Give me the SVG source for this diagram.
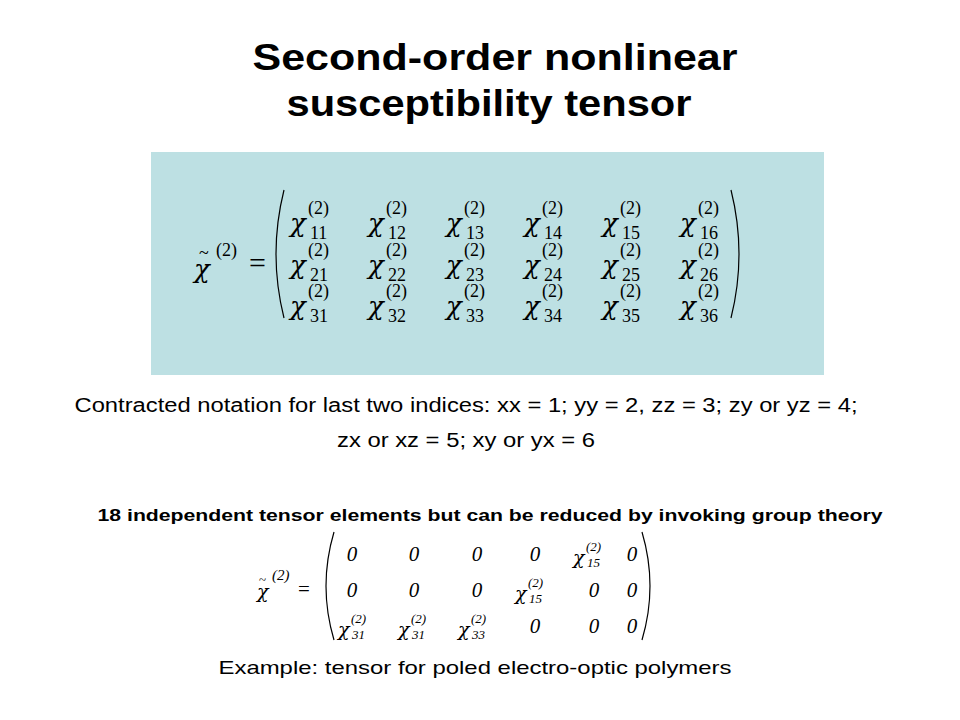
<svg xmlns="http://www.w3.org/2000/svg" width="960" height="720" viewBox="0 0 960 720">
<style>
.t{font-family:"Liberation Sans",Arial,sans-serif;fill:#000}
.m{font-family:"Liberation Serif","Times New Roman",serif;fill:#000}
.c{font-family:"DejaVu Serif",serif;font-style:italic;font-size:26px}
.s{font-size:18px}
.p{fill:none;stroke:#000;stroke-width:1.2}
.bc{font-family:"DejaVu Serif",serif;font-style:italic;font-size:19px}
.bs{font-size:13px;font-style:italic}
.z{font-family:"Liberation Serif",serif;font-style:italic;font-size:21px}
</style>
<rect width="960" height="720" fill="#fff"/>
<g id="title" class="t" font-weight="bold" font-size="36" text-anchor="middle">
<text x="495" y="70" textLength="485" lengthAdjust="spacingAndGlyphs">Second-order nonlinear</text>
<text x="489" y="116" textLength="405" lengthAdjust="spacingAndGlyphs">susceptibility tensor</text>
</g>
<g id="matrix1">
<rect x="151" y="152" width="673" height="223" fill="#bde0e3"/>
<g class="m">
<text x="194" y="278" class="c">χ</text>
<text x="199" y="259" font-size="18">~</text>
<text x="216" y="256" class="s">(2)</text>
<text x="249" y="273" font-size="30">=</text>
</g>
<path class="p" d="M284 190 Q268 254 284 318"/>
<path class="p" d="M731 190 Q747 254 731 318"/>
<g class="m" id="cells">
<g transform="translate(290,232)"><text class="c">χ</text><text x="18" y="-18" class="s">(2)</text><text x="20" y="7" class="s">11</text></g>
<g transform="translate(368,232)"><text class="c">χ</text><text x="18" y="-18" class="s">(2)</text><text x="20" y="7" class="s">12</text></g>
<g transform="translate(446,232)"><text class="c">χ</text><text x="18" y="-18" class="s">(2)</text><text x="20" y="7" class="s">13</text></g>
<g transform="translate(524,232)"><text class="c">χ</text><text x="18" y="-18" class="s">(2)</text><text x="20" y="7" class="s">14</text></g>
<g transform="translate(602,232)"><text class="c">χ</text><text x="18" y="-18" class="s">(2)</text><text x="20" y="7" class="s">15</text></g>
<g transform="translate(680,232)"><text class="c">χ</text><text x="18" y="-18" class="s">(2)</text><text x="20" y="7" class="s">16</text></g>
<g transform="translate(290,274)"><text class="c">χ</text><text x="18" y="-18" class="s">(2)</text><text x="20" y="7" class="s">21</text></g>
<g transform="translate(368,274)"><text class="c">χ</text><text x="18" y="-18" class="s">(2)</text><text x="20" y="7" class="s">22</text></g>
<g transform="translate(446,274)"><text class="c">χ</text><text x="18" y="-18" class="s">(2)</text><text x="20" y="7" class="s">23</text></g>
<g transform="translate(524,274)"><text class="c">χ</text><text x="18" y="-18" class="s">(2)</text><text x="20" y="7" class="s">24</text></g>
<g transform="translate(602,274)"><text class="c">χ</text><text x="18" y="-18" class="s">(2)</text><text x="20" y="7" class="s">25</text></g>
<g transform="translate(680,274)"><text class="c">χ</text><text x="18" y="-18" class="s">(2)</text><text x="20" y="7" class="s">26</text></g>
<g transform="translate(290,315)"><text class="c">χ</text><text x="18" y="-18" class="s">(2)</text><text x="20" y="7" class="s">31</text></g>
<g transform="translate(368,315)"><text class="c">χ</text><text x="18" y="-18" class="s">(2)</text><text x="20" y="7" class="s">32</text></g>
<g transform="translate(446,315)"><text class="c">χ</text><text x="18" y="-18" class="s">(2)</text><text x="20" y="7" class="s">33</text></g>
<g transform="translate(524,315)"><text class="c">χ</text><text x="18" y="-18" class="s">(2)</text><text x="20" y="7" class="s">34</text></g>
<g transform="translate(602,315)"><text class="c">χ</text><text x="18" y="-18" class="s">(2)</text><text x="20" y="7" class="s">35</text></g>
<g transform="translate(680,315)"><text class="c">χ</text><text x="18" y="-18" class="s">(2)</text><text x="20" y="7" class="s">36</text></g>
</g>
</g>
<g id="notation" class="t" font-size="20" text-anchor="middle">
<text x="466" y="412" textLength="783" lengthAdjust="spacingAndGlyphs">Contracted notation for last two indices: xx = 1; yy = 2, zz = 3; zy or yz = 4;</text>
<text x="466" y="447" textLength="258" lengthAdjust="spacingAndGlyphs">zx or xz = 5; xy or yx = 6</text>
</g>
<text id="note" class="t" x="490" y="521" font-size="16" font-weight="bold" text-anchor="middle" textLength="785" lengthAdjust="spacingAndGlyphs">18 independent tensor elements but can be reduced by invoking group theory</text>
<g id="matrix2">
<g class="m">
<text x="257" y="598" class="bc">χ</text>
<text x="259" y="584" font-size="13">~</text>
<text x="272" y="580" font-size="15" font-style="italic">(2)</text>
<text x="298" y="596" font-size="21">=</text>
</g>
<path class="p" d="M334 532 Q318 586 334 640"/>
<path class="p" d="M642 532 Q658 586 642 640"/>
<g class="z" text-anchor="middle">
<text x="352" y="561">0</text><text x="414" y="561">0</text><text x="477" y="561">0</text><text x="535" y="561">0</text><text x="632" y="561">0</text>
<text x="352" y="597">0</text><text x="414" y="597">0</text><text x="477" y="597">0</text><text x="594" y="597">0</text><text x="632" y="597">0</text>
<text x="535" y="633">0</text><text x="594" y="633">0</text><text x="632" y="633">0</text>
</g>
<g class="m">
<g transform="translate(573,564)"><text class="bc">χ</text><text x="13" y="-13" class="bs">(2)</text><text x="14" y="3" class="bs">15</text></g>
<g transform="translate(515,600)"><text class="bc">χ</text><text x="13" y="-13" class="bs">(2)</text><text x="14" y="3" class="bs">15</text></g>
<g transform="translate(338,636)"><text class="bc">χ</text><text x="13" y="-13" class="bs">(2)</text><text x="14" y="3" class="bs">31</text></g>
<g transform="translate(398,636)"><text class="bc">χ</text><text x="13" y="-13" class="bs">(2)</text><text x="14" y="3" class="bs">31</text></g>
<g transform="translate(458,636)"><text class="bc">χ</text><text x="13" y="-13" class="bs">(2)</text><text x="14" y="3" class="bs">33</text></g>
</g>
</g>
<text id="example" class="t" x="475" y="674" font-size="19" text-anchor="middle" textLength="513" lengthAdjust="spacingAndGlyphs">Example: tensor for poled electro-optic polymers</text>
</svg>
